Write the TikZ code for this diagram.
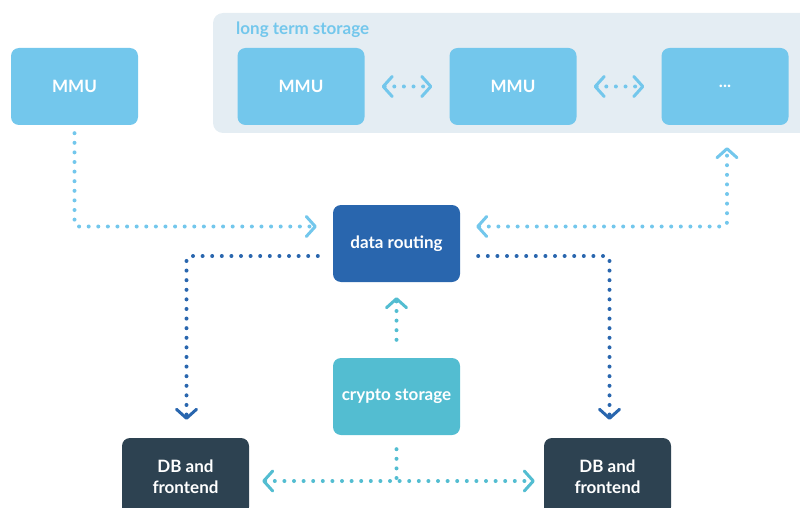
\documentclass[tikz,border=0pt]{standalone}
\usepackage{fontspec}
\setmainfont{Lato}
\usetikzlibrary{arrows.meta,calc}
\definecolor{lblue}{HTML}{73C7EC}
\definecolor{panel}{HTML}{E4EDF3}
\definecolor{dblue}{HTML}{2966AE}
\definecolor{teal}{HTML}{53BDD1}
\definecolor{dark}{HTML}{2D4251}
\tikzset{
  chev/.tip={Straight Barb[length=9pt,width=20pt,line width=3pt,round]},
  box/.style={rounded corners=8pt, minimum width=127pt, minimum height=77pt, inner sep=0pt,
    text=white, font=\fontsize{17}{21}\selectfont\bfseries, align=center},
  dotline/.style={line width=4pt, line cap=round, dash pattern=on 0pt off 9.6pt, rounded corners=4pt},
}
\begin{document}
\begin{tikzpicture}[x=1pt,y=-1pt]
\useasboundingbox (0,0) rectangle (800,508);
\clip (0,0) rectangle (800,508);
% panel
\fill[panel, rounded corners=10pt] (213,13) rectangle (830,133);
\node[anchor=west, text=lblue, font=\fontsize{17}{20}\selectfont\bfseries, inner sep=0pt] (lts) at (236,30) {long term storage};
% nodes
\node[box, fill=lblue] (mmu0) at (74.5,86.5) {MMU};
\node[box, fill=lblue] (m1) at (301,86.5) {MMU};
\node[box, fill=lblue] (m2) at (513,86.5) {MMU};
\node[box, fill=lblue] (m3) at (725,86.5) {...};
\node[box, fill=dblue] (dr) at (396.5,243.5) {data routing};
\node[box, fill=teal] (cs) at (396.5,396.5) {crypto storage};
\node[box, fill=dark] (db1) at (185.5,476.5) {DB and\\frontend};
\node[box, fill=dark] (db2) at (607.5,476.5) {DB and\\frontend};
% connectors
\draw[dotline, lblue, {chev}-{chev}] ($(m1.east)+(17,0)$) -- ($(m2.west)+(-17,0)$);
\draw[dotline, lblue, {chev}-{chev}] ($(m2.east)+(17,0)$) -- ($(m3.west)+(-17,0)$);
\draw[dotline, lblue, -{chev}] ($(mmu0.south)+(0,8)$) |- ($(dr.west)+(-16,-17)$);
\draw[dotline, lblue, {chev}-{chev}] ($(dr.east)+(16,-17)$) -| ($(m3.south)+(2,22)$);
\draw[dotline, dblue, -{chev}] ($(dr.west)+(-15,12.5)$) -| ($(db1.north)+(1,-18)$);
\draw[dotline, dblue, -{chev}] ($(dr.east)+(18,12.5)$) -| ($(db2.north)+(2,-18)$);
\draw[dotline, teal, -{chev}] ($(cs.north)+(0,-18)$) -- ($(dr.south)+(0,15)$);
\coordinate (j) at ($(cs.south)+(0,46)$);
\draw[dotline, teal] ($(cs.south)+(0,14)$) -- (j);
\draw[dotline, teal, {chev}-{chev}] ($(db1.east)+(13,4.5)$) -- ($(db2.west)+(-9,4.5)$);
\end{tikzpicture}
\end{document}
